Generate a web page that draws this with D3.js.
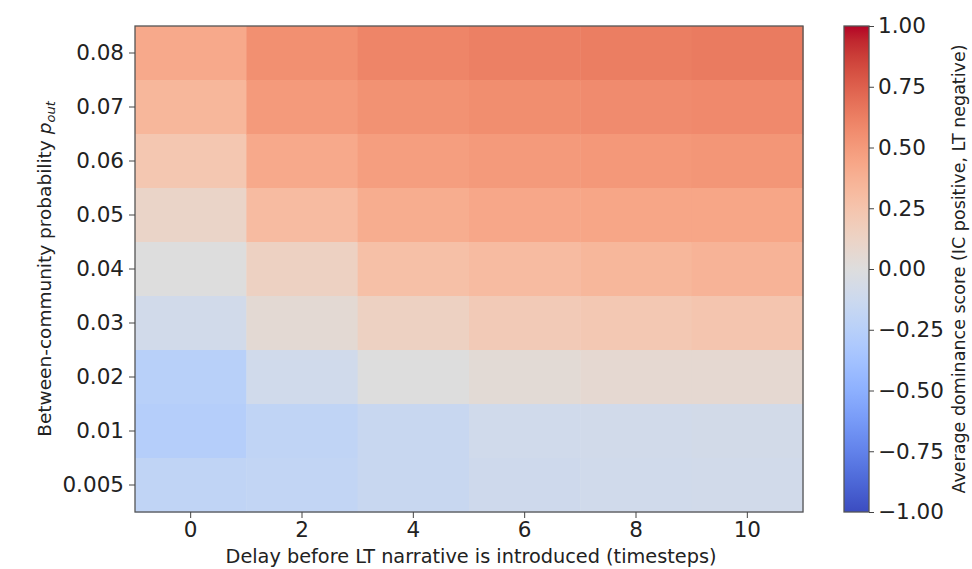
<!DOCTYPE html>
<html>
<head>
<meta charset="utf-8">
<script src="https://cdn.jsdelivr.net/npm/d3@7"></script>
<style>
  body { margin: 0; background: #fff; }
  text { font-family: "DejaVu Sans", sans-serif; fill: #222; }
</style>
</head>
<body>
<script>
// data
const delays = [0, 2, 4, 6, 8, 10];
const pOut = ["0.08", "0.07", "0.06", "0.05", "0.04", "0.03", "0.02", "0.01", "0.005"];
// one array per delay column, top row (0.08) first
const delay0  = [0.42, 0.34, 0.23, 0.11, 0.00, -0.09, -0.25, -0.27, -0.20];
const delay2  = [0.55, 0.50, 0.42, 0.31, 0.14, 0.05, -0.10, -0.20, -0.19];
const delay4  = [0.60, 0.54, 0.48, 0.40, 0.28, 0.14, 0.00, -0.15, -0.15];
const delay6  = [0.62, 0.56, 0.50, 0.43, 0.31, 0.20, 0.04, -0.10, -0.11];
const delay8  = [0.63, 0.57, 0.51, 0.44, 0.34, 0.22, 0.06, -0.09, -0.10];
const delay10 = [0.64, 0.58, 0.52, 0.44, 0.36, 0.24, 0.06, -0.08, -0.09];
const columns = [delay0, delay2, delay4, delay6, delay8, delay10];
const cbTicks = [-1, -0.75, -0.5, -0.25, 0, 0.25, 0.5, 0.75, 1];

// coolwarm (Moreland) control points
const coolwarm = [
  [59,76,192],[68,90,204],[77,104,215],[87,117,225],[98,130,234],[108,142,241],
  [119,154,247],[130,165,251],[141,176,254],[152,185,255],[163,194,255],[174,201,253],
  [184,208,249],[194,213,244],[204,217,238],[213,219,230],[221,221,221],[229,216,209],
  [236,211,197],[241,204,185],[245,196,173],[247,187,160],[247,177,148],[247,166,135],
  [244,154,123],[241,141,111],[236,127,99],[229,112,88],[222,96,77],[213,80,66],
  [203,62,56],[192,40,47],[180,4,38]
];
const cwColors = coolwarm.map(c => d3.rgb(c[0], c[1], c[2]).toString());
const color = d3.scaleLinear()
  .domain(d3.range(cwColors.length).map(i => -1 + 2 * i / (cwColors.length - 1)))
  .range(cwColors)
  .interpolate(d3.interpolateRgb);

const W = 972, H = 569;
const svg = d3.select("body").append("svg").attr("width", W).attr("height", H);

const plot = {left: 135, top: 26, right: 803, bottom: 512};
const tickFont = "21.5px", labelFont = "18.5px";

const x = d3.scaleBand().domain(delays).range([plot.left, plot.right]);
const y = d3.scaleBand().domain(pOut).range([plot.top, plot.bottom]);

// cells
const cells = [];
columns.forEach((col, i) => col.forEach((v, j) => cells.push({d: delays[i], p: pOut[j], v: v})));
svg.append("g").selectAll("rect").data(cells).join("rect")
  .attr("x", d => x(d.d))
  .attr("y", d => y(d.p))
  .attr("width", x.bandwidth() + 0.5)
  .attr("height", y.bandwidth() + 0.5)
  .attr("fill", d => color(d.v));

svg.append("rect")
  .attr("x", plot.left).attr("y", plot.top)
  .attr("width", plot.right - plot.left).attr("height", plot.bottom - plot.top)
  .attr("fill", "none").attr("stroke", "#555").attr("stroke-width", 1.3);

// axes
const xAxis = svg.append("g")
  .attr("transform", `translate(0,${plot.bottom})`)
  .call(d3.axisBottom(x).tickSize(6).tickPadding(4));
const yAxis = svg.append("g")
  .attr("transform", `translate(${plot.left},0)`)
  .call(d3.axisLeft(y).tickSize(6).tickPadding(5));
[xAxis, yAxis].forEach(a => {
  a.select(".domain").remove();
  a.selectAll(".tick line").attr("stroke", "#444");
  a.selectAll(".tick text").style("font-size", tickFont).attr("fill", "#222");
});

svg.append("text")
  .attr("x", (plot.left + plot.right) / 2 + 2).attr("y", 563)
  .attr("text-anchor", "middle").style("font-size", "19.3px")
  .text("Delay before LT narrative is introduced (timesteps)");

const yl = svg.append("text")
  .attr("transform", `translate(51,${(plot.top + plot.bottom) / 2}) rotate(-90)`)
  .attr("text-anchor", "middle").style("font-size", labelFont);
yl.append("tspan").text("Between-community probability ");
yl.append("tspan").style("font-style", "italic").text("p");
yl.append("tspan").style("font-style", "italic").style("font-size", "13px").attr("dy", 4).text("out");

// colorbar
const cb = {left: 844, right: 869, top: 26, bottom: 512};
const grad = svg.append("defs").append("linearGradient")
  .attr("id", "cw").attr("x1", 0).attr("y1", 1).attr("x2", 0).attr("y2", 0);
grad.selectAll("stop").data(cwColors).join("stop")
  .attr("offset", (d, i) => i / (cwColors.length - 1))
  .attr("stop-color", d => d);
svg.append("rect")
  .attr("x", cb.left).attr("y", cb.top)
  .attr("width", cb.right - cb.left).attr("height", cb.bottom - cb.top)
  .attr("fill", "url(#cw)").attr("stroke", "#555").attr("stroke-width", 1.3);

const cbScale = d3.scaleLinear().domain([-1, 1]).range([cb.bottom, cb.top]);
const cbAxis = svg.append("g")
  .attr("transform", `translate(${cb.right},0)`)
  .call(d3.axisRight(cbScale).tickValues(cbTicks).tickFormat(d3.format(".2f")).tickSize(5).tickPadding(4));
cbAxis.select(".domain").remove();
cbAxis.selectAll(".tick line").attr("stroke", "#444");
cbAxis.selectAll(".tick text").style("font-size", tickFont).attr("fill", "#222");

svg.append("text")
  .attr("transform", `translate(965,${(cb.top + cb.bottom) / 2}) rotate(-90)`)
  .attr("text-anchor", "middle").style("font-size", "17.5px")
  .text("Average dominance score (IC positive, LT negative)");
</script>
</body>
</html>
